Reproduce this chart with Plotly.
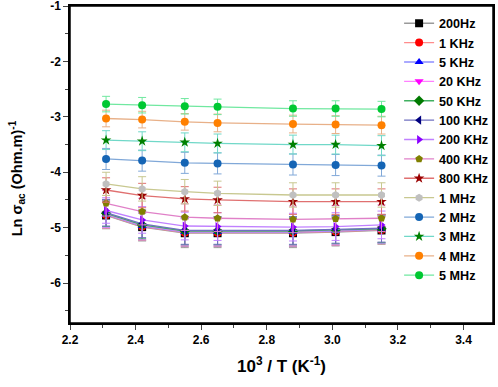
import plotly.graph_objects as go

inv_T = [2.31, 2.42, 2.55, 2.65, 2.88, 3.01, 3.15]

names = ["200Hz", "1 KHz", "5 KHz", "20 KHz", "50 KHz", "100 KHz", "200 KHz",
         "400 KHz", "800 KHz", "1 MHz", "2 MHz", "3 MHz", "4 MHz", "5 MHz"]

ln_sigma = {
    "200Hz":   [-4.78, -4.99, -5.10, -5.10, -5.10, -5.08, -5.05],
    "1 KHz":   [-4.77, -4.98, -5.09, -5.09, -5.09, -5.07, -5.04],
    "5 KHz":   [-4.76, -4.97, -5.08, -5.08, -5.08, -5.06, -5.03],
    "20 KHz":  [-4.75, -4.96, -5.07, -5.07, -5.07, -5.05, -5.02],
    "50 KHz":  [-4.74, -4.95, -5.06, -5.06, -5.06, -5.04, -5.02],
    "100 KHz": [-4.73, -4.93, -5.05, -5.05, -5.05, -5.03, -5.01],
    "200 KHz": [-4.69, -4.86, -4.97, -4.98, -4.99, -4.98, -4.95],
    "400 KHz": [-4.56, -4.71, -4.81, -4.83, -4.85, -4.84, -4.83],
    "800 KHz": [-4.32, -4.42, -4.48, -4.50, -4.53, -4.53, -4.53],
    "1 MHz":   [-4.21, -4.30, -4.35, -4.38, -4.41, -4.41, -4.41],
    "2 MHz":   [-3.76, -3.79, -3.83, -3.84, -3.86, -3.87, -3.88],
    "3 MHz":   [-3.42, -3.44, -3.46, -3.48, -3.50, -3.50, -3.52],
    "4 MHz":   [-3.03, -3.05, -3.09, -3.11, -3.13, -3.14, -3.15],
    "5 MHz":   [-2.77, -2.79, -2.81, -2.82, -2.85, -2.85, -2.86],
}

errors = {
    "200Hz":   [0.24, 0.25, 0.26, 0.26, 0.26, 0.25, 0.25],
    "1 KHz":   [0.24, 0.25, 0.25, 0.25, 0.25, 0.25, 0.25],
    "5 KHz":   [0.24, 0.25, 0.25, 0.25, 0.25, 0.25, 0.25],
    "20 KHz":  [0.24, 0.25, 0.25, 0.25, 0.25, 0.25, 0.25],
    "50 KHz":  [0.24, 0.25, 0.25, 0.25, 0.25, 0.25, 0.25],
    "100 KHz": [0.24, 0.25, 0.25, 0.25, 0.25, 0.25, 0.25],
    "200 KHz": [0.23, 0.24, 0.25, 0.25, 0.25, 0.25, 0.25],
    "400 KHz": [0.23, 0.24, 0.24, 0.24, 0.24, 0.24, 0.24],
    "800 KHz": [0.22, 0.22, 0.22, 0.23, 0.23, 0.23, 0.23],
    "1 MHz":   [0.21, 0.22, 0.22, 0.22, 0.22, 0.22, 0.22],
    "2 MHz":   [0.19, 0.19, 0.19, 0.19, 0.19, 0.19, 0.19],
    "3 MHz":   [0.17, 0.17, 0.17, 0.17, 0.17, 0.17, 0.18],
    "4 MHz":   [0.15, 0.15, 0.15, 0.16, 0.16, 0.16, 0.16],
    "5 MHz":   [0.14, 0.14, 0.14, 0.14, 0.14, 0.14, 0.14],
}

marker_colors = ["#000000", "#ff0000", "#0000ff", "#ff00ff", "#007a00", "#000080",
                 "#8a00ff", "#808000", "#990000", "#c0c0c0", "#1565b5", "#008000",
                 "#ff8000", "#00c832"]
line_colors = ["#9a9a9a", "#ff8c8c", "#8c8cff", "#ff80ff", "#40b060", "#7070c0",
               "#c080ff", "#e080c8", "#e07070", "#c8c890", "#80a8d8", "#70d8c8",
               "#e8b088", "#70e8a0"]
symbols = ["square", "circle", "triangle-up", "triangle-down", "diamond", "triangle-left",
           "triangle-right", "pentagon", "star", "hexagon", "circle", "star",
           "circle", "circle"]

fig = go.Figure()
for i, n in enumerate(names):
    fig.add_trace(go.Scatter(
        x=inv_T, y=ln_sigma[n], name=n, mode="lines+markers",
        line=dict(color=line_colors[i], width=1.3),
        marker=dict(symbol=symbols[i], color=marker_colors[i], size=8,
                    line=dict(width=0)),
        error_y=dict(type="data", array=errors[n], visible=True,
                     color=line_colors[i], thickness=1, width=4),
    ))

fig.add_shape(type="rect", xref="paper", yref="paper", x0=0, y0=0, x1=1, y1=1,
              line=dict(color="black", width=1.5), fillcolor="rgba(0,0,0,0)",
              layer="above")

fig.add_annotation(text="Ln σ<sub>ac</sub> (Ohm.m)<sup>-1</sup>", textangle=-90,
                   xref="paper", yref="paper", x=-0.125, y=0.457,
                   xanchor="center", yanchor="middle", showarrow=False,
                   font=dict(size=14.5, weight="bold", color="black"))

fig.update_layout(
    width=498, height=387,
    margin=dict(l=70, r=5, t=6, b=64),
    paper_bgcolor="white", plot_bgcolor="white",
    font=dict(family="Arial", size=12, color="black"),
    showlegend=True,
    legend=dict(x=0.778, y=0.992, xanchor="left", yanchor="top",
                bgcolor="rgba(0,0,0,0)", borderwidth=0,
                font=dict(size=12.6, weight="bold"), itemwidth=30,
                tracegroupgap=0),
    xaxis=dict(range=[2.2, 3.49], tickmode="array", automargin=False,
               tickvals=[2.2, 2.4, 2.6, 2.8, 3.0, 3.2, 3.4],
               ticktext=["2.2", "2.4", "2.6", "2.8", "3.0", "3.2", "3.4"],
               ticks="outside", ticklen=5, tickwidth=1.2,
               minor=dict(dtick=0.1, ticks="outside", ticklen=3, tickwidth=1),
               showline=True, linecolor="black", linewidth=1.5, mirror=True,
               showgrid=False, zeroline=False,
               tickfont=dict(size=12, weight="bold"),
               title=dict(text="10<sup>3</sup> / T (K<sup>-1</sup>)",
                          font=dict(size=17, weight="bold"), standoff=14)),
    yaxis=dict(range=[-6.72, -1], tickmode="array", automargin=False,
               tickvals=[-6, -5, -4, -3, -2, -1],
               ticktext=["-6", "-5", "-4", "-3", "-2", "-1"],
               ticks="outside", ticklen=5, tickwidth=1.2,
               minor=dict(dtick=0.5, ticks="outside", ticklen=3, tickwidth=1),
               showline=True, linecolor="black", linewidth=1.5, mirror=True,
               showgrid=False, zeroline=False, ticklabeloverflow="allow",
               tickfont=dict(size=12, weight="bold")),
)

fig.write_html("out.html", config={"displayModeBar": False},
               post_script="document.body.style.margin='0px';document.body.style.overflow='hidden';")
